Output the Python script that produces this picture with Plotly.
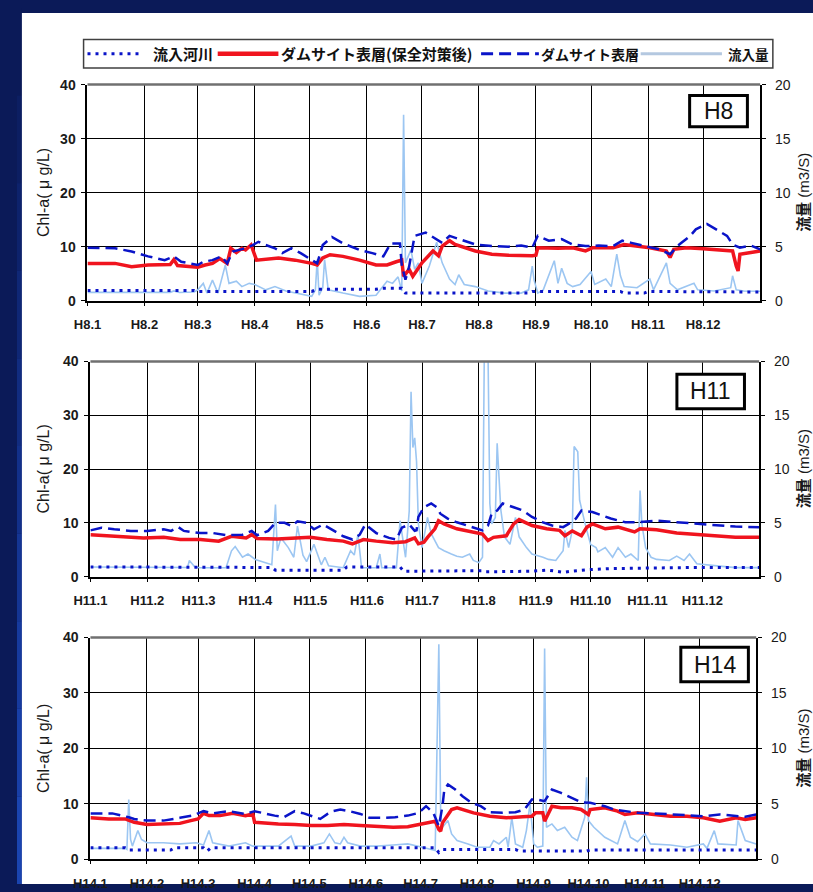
import plotly.graph_objects as go

W, H = 813, 892

# ---------------- tick labels / month starts (day of year) ----------------
month_starts_leap = [0, 31, 60, 91, 121, 152, 182, 213, 244, 274, 305, 335]
month_starts = [0, 31, 59, 90, 120, 151, 181, 212, 243, 273, 304, 334]
h8_ticktext = ["H8.1", "H8.2", "H8.3", "H8.4", "H8.5", "H8.6", "H8.7", "H8.8", "H8.9", "H8.10", "H8.11", "H8.12"]
h11_ticktext = ["H11.1", "H11.2", "H11.3", "H11.4", "H11.5", "H11.6", "H11.7", "H11.8", "H11.9", "H11.10", "H11.11", "H11.12"]
h14_ticktext = ["H14.1", "H14.2", "H14.3", "H14.4", "H14.5", "H14.6", "H14.7", "H14.8", "H14.9", "H14.10", "H14.11", "H14.12"]

series_names = ["流入河川", "ダムサイト表層(保全対策後)", "ダムサイト表層", "流入量"]

# ---------------- H8 ----------------
h8_red_day = [0, 15, 24, 33, 45, 47, 49, 60, 64, 68, 72, 76, 78, 81, 84, 86, 89, 91, 92, 104, 113, 122, 125, 128, 132, 139, 148, 157, 163, 168, 171, 172, 175, 177, 182, 188, 191, 193, 197, 200, 211, 220, 229, 242, 244, 245, 256, 264, 271, 275, 286, 292, 299, 306, 315, 317, 319, 326, 335, 344, 351, 353, 354, 355, 361, 366]
h8_red = [6.9, 6.9, 6.3, 6.6, 6.7, 7.6, 6.5, 6.2, 6.6, 6.9, 7.8, 6.9, 9.7, 8.9, 9.7, 9.4, 10.3, 8.2, 7.5, 7.9, 7.5, 6.9, 6.6, 7.9, 8.5, 8.2, 7.5, 6.6, 6.6, 7.2, 7.5, 4.5, 5.8, 4.5, 7.0, 9.2, 8.3, 10.1, 11.1, 10.4, 9.2, 8.6, 8.4, 8.3, 8.4, 9.8, 9.7, 9.8, 9.2, 9.8, 9.8, 10.4, 10.1, 9.8, 9.2, 8.0, 9.5, 9.8, 9.6, 9.4, 9.2, 6.4, 5.5, 8.6, 8.9, 9.2]
h8_dash_day = [0, 15, 24, 33, 42, 47, 51, 60, 63, 68, 73, 76, 79, 83, 86, 90, 93, 97, 102, 106, 111, 116, 122, 125, 128, 133, 139, 148, 155, 161, 165, 170, 171, 173, 175, 178, 184, 190, 193, 197, 202, 211, 220, 229, 236, 242, 245, 251, 258, 264, 271, 278, 286, 291, 296, 304, 311, 317, 322, 328, 331, 337, 342, 348, 351, 355, 361, 366]
h8_dash = [9.8, 9.7, 9.1, 8.2, 7.5, 8.2, 7.2, 6.6, 7.2, 7.5, 8.2, 6.9, 9.1, 9.4, 9.7, 10.3, 10.9, 10.3, 9.7, 8.8, 9.7, 8.8, 7.5, 6.9, 10.3, 11.8, 10.6, 9.4, 8.8, 8.2, 10.6, 10.6, 6.6, 3.9, 6.3, 12.0, 12.6, 11.4, 10.7, 12.0, 11.4, 10.4, 10.1, 10.0, 10.2, 9.8, 12.0, 11.1, 11.4, 10.4, 10.1, 10.2, 10.1, 11.1, 10.7, 10.1, 9.5, 8.6, 10.4, 12.0, 13.2, 14.2, 13.2, 12.0, 10.4, 9.8, 10.2, 9.5]
h8_river_day = [0, 58, 60, 90, 122, 125, 157, 160, 171, 173, 240, 242, 290, 292, 303, 305, 366]
h8_river = [1.9, 1.9, 1.7, 1.7, 1.7, 2.1, 2.1, 2.3, 2.3, 1.4, 1.4, 1.7, 1.7, 1.4, 1.4, 1.7, 1.6]
h8_flow_day = [0, 45, 47, 50, 58, 60, 63, 65, 68, 71, 75, 77, 81, 84, 88, 91, 97, 102, 108, 113, 118, 122, 124, 125, 126, 128, 129, 131, 139, 148, 157, 163, 166, 169, 171, 172, 173, 176, 178, 180, 182, 186, 190, 193, 197, 200, 202, 205, 211, 218, 227, 236, 240, 242, 243, 245, 248, 254, 256, 258, 261, 264, 268, 274, 276, 282, 285, 288, 290, 292, 299, 306, 308, 315, 317, 321, 330, 332, 341, 350, 351, 353, 357, 366]
h8_flow = [0.77, 0.77, 0.9, 0.75, 0.8, 1.0, 1.6, 0.7, 1.9, 0.7, 3.3, 1.6, 1.8, 1.3, 1.6, 1.5, 1.0, 1.3, 0.9, 0.7, 0.55, 0.4, 1.0, 3.8, 0.5, 1.2, 3.8, 1.0, 0.7, 0.4, 0.5, 1.8, 1.6, 2.2, 0.9, 17.2, 3.5, 4.7, 2.9, 3.5, 1.6, 3.2, 5.4, 3.5, 2.0, 1.5, 2.4, 1.5, 1.3, 0.9, 0.7, 0.7, 1.0, 3.2, 1.9, 0.7, 1.0, 3.7, 1.6, 3.0, 1.6, 1.3, 1.5, 2.7, 1.5, 2.0, 1.3, 4.3, 2.3, 1.3, 1.2, 2.0, 1.0, 3.5, 1.6, 1.0, 1.6, 1.0, 0.9, 1.2, 2.3, 1.0, 0.9, 0.87]

# ---------------- H11 ----------------
h11_red_day = [0, 13, 29, 40, 49, 60, 70, 77, 85, 88, 91, 102, 111, 120, 129, 138, 143, 149, 156, 165, 172, 177, 179, 182, 184, 188, 190, 193, 200, 209, 214, 217, 220, 227, 231, 234, 241, 249, 256, 259, 263, 268, 271, 274, 281, 288, 297, 300, 309, 320, 331, 343, 352, 365]
h11_red = [7.8, 7.5, 7.2, 7.3, 6.9, 6.9, 6.6, 7.5, 7.2, 7.8, 7.1, 7.0, 7.2, 7.3, 6.9, 6.6, 6.1, 6.9, 6.6, 6.3, 6.5, 7.2, 6.1, 6.4, 7.3, 8.9, 10.4, 9.8, 8.9, 8.3, 7.9, 6.7, 7.3, 7.6, 9.8, 10.6, 9.5, 8.9, 8.6, 7.6, 8.5, 7.6, 9.2, 9.8, 8.9, 9.2, 8.3, 8.9, 8.7, 8.1, 7.8, 7.5, 7.3, 7.3]
h11_dash_day = [0, 6, 13, 22, 31, 40, 44, 48, 51, 60, 67, 74, 83, 88, 91, 97, 101, 106, 110, 113, 118, 122, 127, 133, 138, 143, 147, 150, 156, 163, 167, 170, 174, 177, 178, 179, 182, 186, 189, 191, 195, 200, 206, 211, 214, 217, 219, 222, 225, 231, 236, 241, 247, 252, 258, 261, 265, 268, 274, 279, 284, 292, 299, 309, 320, 331, 343, 352, 365]
h11_dash = [8.6, 9.1, 8.8, 8.5, 8.5, 8.8, 8.5, 9.2, 8.5, 8.1, 8.1, 7.7, 7.8, 8.5, 7.7, 8.5, 10.0, 10.0, 9.4, 10.3, 10.0, 8.8, 9.7, 8.5, 7.5, 6.9, 7.8, 9.7, 8.1, 7.2, 6.9, 9.1, 9.7, 8.5, 8.6, 11.1, 12.9, 13.6, 12.9, 11.7, 10.8, 10.1, 9.5, 8.9, 8.6, 9.5, 11.7, 12.3, 13.6, 12.9, 12.3, 11.1, 10.1, 9.5, 9.2, 9.8, 10.8, 12.3, 12.0, 11.4, 10.8, 10.1, 10.1, 10.4, 10.1, 9.8, 9.5, 9.3, 9.2]
h11_river_day = [0, 58, 60, 99, 101, 138, 140, 169, 171, 214, 216, 240, 250, 258, 262, 272, 285, 300, 330, 365]
h11_river = [1.8, 1.8, 1.7, 1.7, 1.2, 1.2, 1.8, 1.8, 1.0, 1.1, 0.9, 1.0, 1.2, 0.8, 1.0, 1.3, 1.5, 1.6, 1.7, 1.7]
h11_flow_day = [0, 49, 53, 54, 57, 60, 74, 77, 79, 83, 86, 90, 95, 99, 101, 102, 104, 108, 111, 113, 116, 118, 122, 126, 128, 130, 138, 142, 144, 146, 148, 156, 158, 159, 167, 169, 172, 174, 175, 176, 177, 178, 179, 181, 184, 186, 190, 193, 197, 200, 203, 207, 209, 212, 214, 215, 217, 218, 219, 221, 222, 224, 226, 229, 232, 234, 238, 241, 247, 250, 254, 258, 259, 261, 263, 264, 266, 267, 270, 273, 276, 277, 281, 285, 288, 292, 295, 299, 300, 301, 303, 306, 309, 316, 320, 324, 327, 331, 342, 352, 365]
h11_flow = [0.9, 0.9, 0.85, 1.5, 0.9, 0.83, 0.83, 2.4, 2.8, 1.8, 2.1, 1.6, 1.3, 1.1, 6.7, 2.4, 3.6, 2.7, 1.8, 4.7, 2.0, 1.4, 3.0, 1.1, 1.8, 1.0, 0.83, 2.4, 2.0, 3.9, 0.83, 0.83, 2.1, 0.83, 0.83, 5.2, 1.8, 6.1, 17.2, 12.0, 12.9, 10.7, 4.9, 2.7, 5.5, 4.0, 2.7, 2.4, 2.1, 1.9, 1.8, 2.1, 1.5, 1.3, 1.8, 21.0, 21.0, 6.8, 4.9, 5.5, 12.4, 6.2, 3.7, 3.0, 5.5, 3.7, 2.7, 2.1, 1.8, 1.6, 1.5, 2.4, 4.3, 2.7, 4.3, 12.1, 11.6, 7.1, 4.9, 3.0, 2.7, 2.3, 2.7, 1.8, 2.7, 1.8, 2.1, 1.5, 8.0, 4.9, 2.7, 1.8, 1.6, 1.5, 1.9, 1.5, 2.1, 1.2, 1.0, 0.84, 0.84]

# ---------------- H14 ----------------
h14_red_day = [0, 10, 19, 24, 31, 40, 49, 55, 59, 62, 65, 71, 78, 85, 89, 90, 96, 103, 112, 121, 130, 139, 148, 157, 166, 174, 180, 185, 189, 191, 192, 193, 198, 201, 210, 219, 228, 237, 242, 244, 248, 249, 253, 258, 264, 269, 273, 274, 282, 289, 293, 300, 309, 318, 327, 336, 345, 354, 359, 365]
h14_red = [7.5, 7.3, 7.3, 6.7, 6.3, 6.4, 6.5, 7.0, 7.3, 8.3, 7.9, 7.9, 8.3, 7.9, 8.2, 6.7, 6.5, 6.4, 6.3, 6.1, 6.1, 6.3, 6.1, 6.0, 5.8, 5.9, 6.3, 6.6, 6.9, 5.4, 5.1, 6.6, 9.0, 9.3, 8.4, 7.8, 7.5, 7.7, 7.8, 8.4, 8.4, 6.9, 9.6, 9.3, 9.3, 9.0, 8.1, 9.0, 9.3, 8.7, 8.1, 8.4, 8.1, 7.8, 7.8, 7.5, 6.9, 7.5, 7.2, 7.5]
h14_dash_day = [0, 12, 21, 24, 31, 40, 49, 56, 62, 67, 76, 85, 90, 96, 101, 106, 112, 117, 121, 126, 130, 133, 137, 142, 148, 153, 160, 167, 174, 180, 184, 188, 191, 193, 194, 196, 200, 204, 209, 214, 219, 226, 233, 238, 242, 245, 249, 253, 258, 264, 269, 274, 282, 287, 293, 300, 309, 318, 327, 336, 345, 354, 359, 365]
h14_dash = [8.3, 8.3, 7.6, 7.3, 7.0, 7.0, 7.5, 7.9, 8.7, 8.3, 8.7, 8.2, 8.7, 8.2, 7.9, 7.6, 8.7, 8.3, 7.9, 7.3, 8.2, 8.7, 9.0, 8.7, 8.2, 7.5, 7.5, 7.6, 7.9, 8.4, 9.6, 8.4, 6.0, 9.6, 12.6, 13.5, 12.6, 11.4, 10.2, 9.6, 8.5, 8.4, 8.5, 9.0, 10.8, 10.8, 10.5, 12.6, 12.0, 11.1, 10.3, 10.2, 9.6, 9.0, 8.7, 8.4, 8.3, 8.1, 8.0, 7.8, 8.1, 7.8, 7.7, 8.1]
h14_river_day = [0, 19, 21, 44, 46, 62, 64, 66, 189, 191, 193, 233, 235, 272, 274, 365]
h14_river = [2.1, 2.1, 1.7, 1.7, 2.1, 2.1, 1.5, 2.1, 2.1, 1.25, 1.8, 1.8, 1.5, 1.5, 1.7, 1.7]
h14_flow_day = [0, 19, 20, 21, 22, 23, 26, 28, 31, 40, 49, 58, 62, 64, 65, 67, 76, 85, 89, 103, 110, 112, 121, 128, 131, 134, 137, 139, 141, 148, 157, 166, 174, 182, 189, 191, 192, 193, 196, 198, 201, 207, 212, 219, 221, 224, 228, 229, 231, 233, 237, 239, 241, 243, 245, 248, 249, 250, 253, 256, 260, 264, 267, 271, 272, 273, 276, 282, 289, 293, 296, 300, 304, 307, 318, 327, 336, 338, 342, 344, 354, 355, 359, 365]
h14_flow = [1.0, 1.0, 0.9, 5.4, 1.8, 1.2, 2.6, 1.8, 1.5, 1.5, 1.4, 1.5, 1.3, 2.3, 2.6, 1.5, 1.2, 1.5, 1.2, 1.2, 2.1, 1.2, 1.2, 1.5, 2.3, 1.5, 1.4, 2.0, 1.5, 1.2, 1.2, 1.3, 1.4, 1.1, 0.8, 19.4, 4.1, 2.9, 3.5, 2.3, 1.7, 1.4, 1.1, 1.1, 1.7, 1.4, 2.0, 1.1, 3.8, 1.4, 1.1, 2.6, 5.0, 1.4, 1.1, 1.2, 19.0, 2.9, 3.2, 2.6, 2.9, 2.0, 1.7, 3.8, 7.4, 3.5, 2.9, 2.0, 1.4, 3.5, 2.0, 1.6, 2.3, 1.4, 1.3, 1.1, 1.4, 1.0, 2.6, 1.4, 1.3, 3.5, 1.7, 1.4]

panel_labels = ["H8", "H11", "H14"]

panels = [
    dict(label=panel_labels[0], ndays=366, tickvals=month_starts_leap, ticktext=h8_ticktext,
         red=(h8_red_day, h8_red), dash=(h8_dash_day, h8_dash), river=(h8_river_day, h8_river), flow=(h8_flow_day, h8_flow),
         box=(72, 759, 78, 298), tag=(687, 746, 89, 121)),
    dict(label=panel_labels[1], ndays=365, tickvals=month_starts, ticktext=h11_ticktext,
         red=(h11_red_day, h11_red), dash=(h11_dash_day, h11_dash), river=(h11_river_day, h11_river), flow=(h11_flow_day, h11_flow),
         box=(75, 758, 360, 579), tag=(674, 743, 373, 408)),
    dict(label=panel_labels[2], ndays=365, tickvals=month_starts, ticktext=h14_ticktext,
         red=(h14_red_day, h14_red), dash=(h14_dash_day, h14_dash), river=(h14_river_day, h14_river), flow=(h14_flow_day, h14_flow),
         box=(75, 755, 641, 867), tag=(678, 747, 651, 686)),
]

BLUE = "#0a14c8"
RED = "#f0141e"
LIGHT = "#9cc6f2"
NAVY = "#0b1a58"
SANS = "Liberation Sans, Arial, sans-serif"
CJK = "Noto Sans CJK JP, sans-serif"


def fx(px):
    return px / W


def fy(py):
    return 1 - py / H


fig = go.Figure()
layout = dict(width=W, height=H, margin=dict(l=0, r=0, t=0, b=0),
              paper_bgcolor=NAVY, plot_bgcolor="white", showlegend=False)
shapes = []
annotations = []

# background: left frame strip shading from dark navy (top) to brighter blue (bottom)
strip_colors = ["#0b1a58", "#0c1e62", "#0d226c", "#0f2776", "#112c80", "#12308a", "#143594", "#163a9e", "#183fa8", "#1a44b0"]
seg = H / len(strip_colors)
for k, c in enumerate(strip_colors):
    shapes.append(dict(type="rect", xref="paper", yref="paper", x0=0, x1=fx(5),
                       y0=fy((k + 1) * seg), y1=fy(k * seg), fillcolor=c, line=dict(width=0), layer="below"))
# white sheet
shapes.append(dict(type="rect", xref="paper", yref="paper", x0=fx(5), x1=fx(813), y0=fy(892), y1=fy(5),
                   fillcolor="white", line=dict(width=0), layer="below"))

for i, p in enumerate(panels):
    n = i + 1
    fl = 2 * n - 1
    ch = 2 * n
    xid = "x" if n == 1 else f"x{n}"
    yfl = "y" if fl == 1 else f"y{fl}"
    ych = f"y{ch}"
    x0, x1, y0, y1 = p["box"]

    # flow (right axis) drawn first, behind the Chl-a lines
    fig.add_trace(go.Scatter(x=p["flow"][0], y=p["flow"][1], name=series_names[3], mode="lines",
                             line=dict(color=LIGHT, width=1.6), xaxis=xid, yaxis=yfl))
    fig.add_trace(go.Scatter(x=p["river"][0], y=p["river"][1], name=series_names[0], mode="lines",
                             line=dict(color=BLUE, width=3, dash="3px,5px"), xaxis=xid, yaxis=ych))
    fig.add_trace(go.Scatter(x=p["red"][0], y=p["red"][1], name=series_names[1], mode="lines",
                             line=dict(color=RED, width=3.5), xaxis=xid, yaxis=ych))
    fig.add_trace(go.Scatter(x=p["dash"][0], y=p["dash"][1], name=series_names[2], mode="lines",
                             line=dict(color=BLUE, width=2.5, dash="12px,6px"), xaxis=xid, yaxis=ych))

    xkey = "xaxis" if n == 1 else f"xaxis{n}"
    ykey_fl = "yaxis" if fl == 1 else f"yaxis{fl}"
    ykey_ch = f"yaxis{ch}"
    layout[xkey] = dict(domain=[fx(x0), fx(x1)], anchor=yfl, range=[0, p["ndays"]],
                        tickmode="array", tickvals=p["tickvals"], ticktext=p["ticktext"],
                        showgrid=True, gridcolor="black", gridwidth=1.3, zeroline=False,
                        showline=True, linecolor="black", linewidth=2,
                        ticks="outside", ticklen=3, tickcolor="black",
                        tickfont=dict(family=SANS, size=13, color="#1a1a1a", weight="bold"),
                        ticklabelstandoff=8, fixedrange=True)
    layout[ykey_fl] = dict(domain=[fy(y1), fy(y0)], anchor=xid, side="right", range=[0, 20],
                           tickmode="array", tickvals=[0, 5, 10, 15, 20],
                           showgrid=True, gridcolor="black", gridwidth=1.3, zeroline=False,
                           showline=True, linecolor="black", linewidth=2,
                           ticks="outside", ticklen=4, tickcolor="black",
                           tickfont=dict(family=SANS, size=14, color="#1a1a1a"),
                           ticklabelstandoff=6, fixedrange=True)
    layout[ykey_ch] = dict(overlaying=yfl, anchor=xid, side="left", range=[0, 40],
                           tickmode="array", tickvals=[0, 10, 20, 30, 40],
                           showgrid=False, zeroline=False,
                           showline=True, linecolor="black", linewidth=2,
                           ticks="outside", ticklen=4, tickcolor="black",
                           tickfont=dict(family=SANS, size=14, color="#1a1a1a", weight="bold"),
                           ticklabelstandoff=3, fixedrange=True)

    # gray top border of the plot area
    shapes.append(dict(type="line", xref="paper", yref="paper", x0=fx(x0), x1=fx(x1), y0=fy(y0), y1=fy(y0),
                       line=dict(color="#707070", width=2.5), layer="above"))
    # panel year tag
    tx0, tx1, ty0, ty1 = p["tag"]
    shapes.append(dict(type="rect", xref="paper", yref="paper", x0=fx(tx0), x1=fx(tx1), y0=fy(ty1), y1=fy(ty0),
                       fillcolor="white", line=dict(color="black", width=3), layer="above"))
    annotations.append(dict(xref="paper", yref="paper", x=fx((tx0 + tx1) / 2), y=fy((ty0 + ty1) / 2),
                            text=p["label"], showarrow=False, xanchor="center", yanchor="middle",
                            font=dict(family=SANS, size=23, color="#111")))
    # axis titles
    yc = (y0 + y1) / 2
    annotations.append(dict(xref="paper", yref="paper", x=fx(27), y=fy(yc), text="Chl-a( μ g/L)",
                            textangle=-90, showarrow=False, xanchor="center", yanchor="middle",
                            font=dict(family=SANS, size=16, color="#1a1a1a")))
    annotations.append(dict(xref="paper", yref="paper", x=fx(803), y=fy(yc), text="<b>流量</b> (m3/S)",
                            textangle=-90, showarrow=False, xanchor="center", yanchor="middle",
                            font=dict(family="Liberation Sans, Noto Sans CJK JP, sans-serif", size=15, color="#1a1a1a")))

# ---------------- manual legend ----------------
ly = 46.5
shapes.append(dict(type="rect", xref="paper", yref="paper", x0=fx(68), x1=fx(772), y0=fy(61), y1=fy(32),
                   fillcolor="white", line=dict(color="#404040", width=1.5), layer="above"))
legend_items = [
    (series_names[0], dict(color=BLUE, width=3, dash="3px,5px"), 72, 126, 137, 15),
    (series_names[1], dict(color=RED, width=4.5), 205, 267, 268, 15),
    (series_names[2], dict(color=BLUE, width=3, dash="12px,6px"), 474, 533, 533, 14),
    (series_names[3], dict(color="#b4c8e0", width=3), 637, 720, 724, 13.5),
]
for name, ln, sx0, sx1, tx, fs in legend_items:
    shapes.append(dict(type="line", xref="paper", yref="paper", x0=fx(sx0), x1=fx(sx1), y0=fy(ly), y1=fy(ly),
                       line=ln, layer="above"))
    annotations.append(dict(xref="paper", yref="paper", x=fx(tx), y=fy(ly), text=name, showarrow=False,
                            xanchor="left", yanchor="middle",
                            font=dict(family=CJK, size=fs, color="#111", weight="bold")))

layout["shapes"] = shapes
layout["annotations"] = annotations
fig.update_layout(**layout)
fig.write_html(
    "out.html",
    config={"displayModeBar": False},
    post_script="document.body.style.margin='0';document.body.style.overflow='hidden';"
                "document.body.style.background='" + NAVY + "';"
                "document.documentElement.style.background='" + NAVY + "';",
)
